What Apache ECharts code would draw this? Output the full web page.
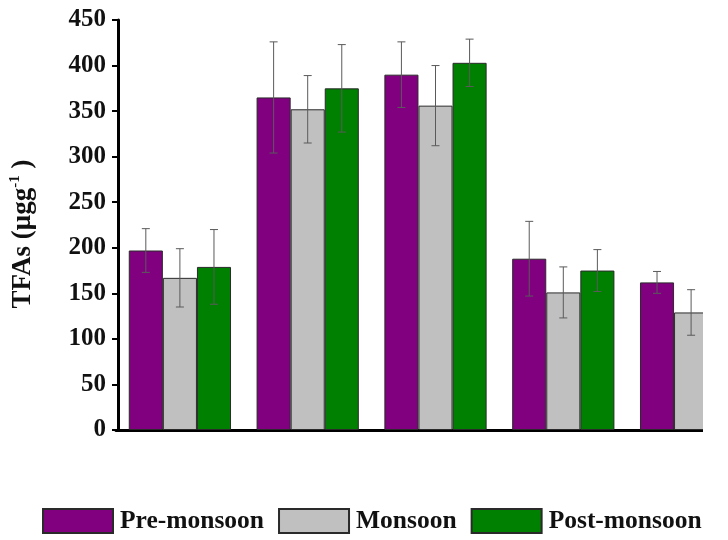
<!DOCTYPE html>
<html>
<head>
<meta charset="utf-8">
<script src="https://cdn.jsdelivr.net/npm/echarts@6/dist/echarts.min.js"></script>
<style>
  html, body { margin: 0; padding: 0; background: #fff; }
  #frame { position: absolute; left: 0; top: 0; width: 703px; height: 540px; overflow: hidden; background: #fff; }
  #chart { width: 800px; height: 540px; }
</style>
</head>
<body>
<div id="frame"><div id="chart"></div></div>
<script>
// Sampling sites (labels not printed under the axis)
const sites = ['S1', 'S2', 'S3', 'S4', 'S5'];
const seasons = ['Pre-monsoon', 'Monsoon', 'Post-monsoon'];
const seasonColors = ['#800080', '#c0c0c0', '#008000'];

// Mean total fatty acids (µg g-1) per site and season
const preMonsoon  = [197, 365, 390, 188, 162];
const monsoon     = [167, 352, 356, 151, 129];
const postMonsoon = [179, 375, 403, 175, null];

// Standard deviations
const preMonsoonSD  = [24, 61, 36, 41, 12];
const monsoonSD     = [32, 37, 44, 28, 25];
const postMonsoonSD = [41, 48, 26, 23, null];

const yTicks = [0, 50, 100, 150, 200, 250, 300, 350, 400, 450];

const means = [preMonsoon, monsoon, postMonsoon];
const sds = [preMonsoonSD, monsoonSD, postMonsoonSD];
const categoryGap = 0.2;

const serif = '"Liberation Serif", "Times New Roman", serif';

const barSeries = seasons.map((name, s) => ({
  name: name,
  type: 'bar',
  data: means[s],
  barGap: '0%',
  barCategoryGap: (categoryGap * 100) + '%',
  itemStyle: { color: seasonColors[s], borderColor: '#2a2a2a', borderWidth: 1 },
  z: 2
}));

const errorData = [];
means.forEach((vals, s) => {
  vals.forEach((v, i) => {
    if (v != null && sds[s][i] != null) {
      errorData.push([i, v - sds[s][i], v + sds[s][i], s]);
    }
  });
});

const errorSeries = {
  type: 'custom',
  name: 'sd',
  data: errorData,
  z: 5,
  silent: true,
  encode: { x: 0, y: [1, 2] },
  renderItem: function (params, api) {
    const cat = api.value(0);
    const lo = api.coord([cat, api.value(1)]);
    const hi = api.coord([cat, api.value(2)]);
    const band = api.size([1, 0])[0];
    const barW = band * (1 - categoryGap) / seasons.length;
    const x = lo[0] + (api.value(3) - (seasons.length - 1) / 2) * barW;
    const cap = 4;
    const style = { stroke: '#5a5a5a', lineWidth: 1 };
    return {
      type: 'group',
      children: [
        { type: 'line', shape: { x1: x, y1: lo[1], x2: x, y2: hi[1] }, style: style },
        { type: 'line', shape: { x1: x - cap, y1: hi[1], x2: x + cap, y2: hi[1] }, style: style },
        { type: 'line', shape: { x1: x - cap, y1: lo[1], x2: x + cap, y2: lo[1] }, style: style }
      ]
    };
  }
};

const chart = echarts.init(document.getElementById('chart'), null, { renderer: 'canvas' });
chart.setOption({
  animation: false,
  backgroundColor: '#fff',
  grid: { left: 115, top: 20, width: 640, height: 410 },
  legend: {
    data: seasons,
    left: 37,
    top: 503,
    itemWidth: 70,
    itemHeight: 24,
    itemGap: 14,
    icon: 'rect',
    textStyle: { fontFamily: serif, fontWeight: 'bold', fontSize: 25.5, color: '#111', padding: [0, 0, 0, 2] }
  },
  xAxis: {
    type: 'category',
    data: sites,
    axisLine: { lineStyle: { color: '#000', width: 3 } },
    axisTick: { alignWithLabel: true, length: 3, lineStyle: { color: '#000', width: 1 } },
    axisLabel: { show: false },
    splitLine: { show: false }
  },
  yAxis: {
    type: 'value',
    offset: -2,
    min: yTicks[0],
    max: yTicks[yTicks.length - 1],
    interval: yTicks[1] - yTicks[0],
    name: '{a|TFAs (μgg}{s|-1}{a| )}',
    nameLocation: 'middle',
    nameGap: 80,
    nameRotate: 90,
    nameTextStyle: {
      padding: [0, 18, 0, 0],
      rich: {
        a: { fontFamily: serif, fontWeight: 'bold', fontSize: 27, color: '#111', lineHeight: 30 },
        s: { fontFamily: serif, fontWeight: 'bold', fontSize: 15, color: '#111', verticalAlign: 'top', lineHeight: 30, padding: [0, 0, 12, 0] }
      }
    },
    axisLine: { show: true, lineStyle: { color: '#000', width: 3 } },
    axisTick: { show: true, length: 6, lineStyle: { color: '#000', width: 2 } },
    axisLabel: { fontFamily: serif, fontWeight: 'bold', fontSize: 25, color: '#111', margin: 12 },
    splitLine: { show: false }
  },
  series: barSeries.concat([errorSeries])
});
</script>
</body>
</html>
